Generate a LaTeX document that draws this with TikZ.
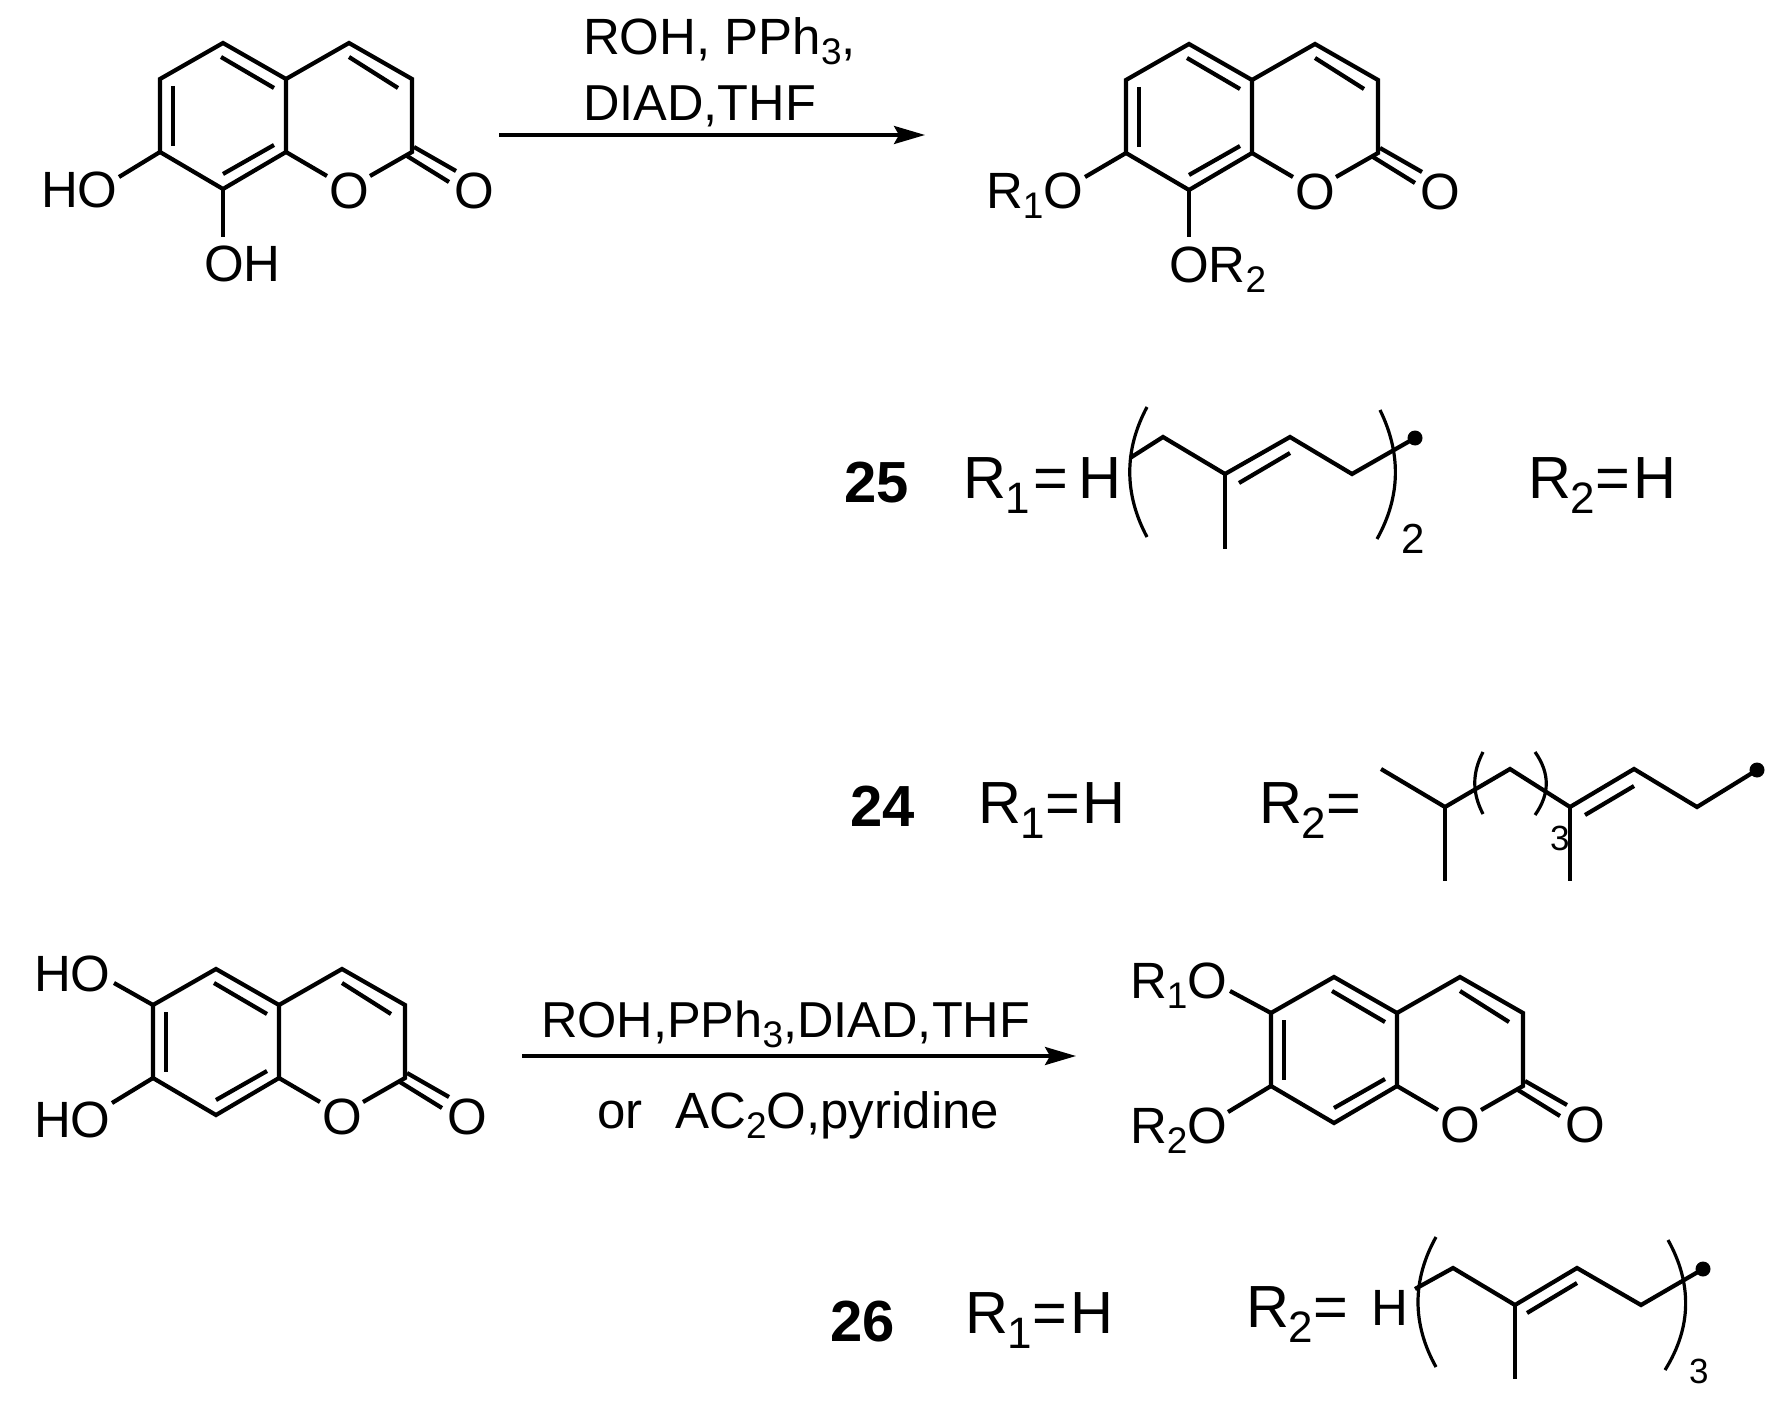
\documentclass[tikz,border=0pt]{standalone}
\usepackage{fontspec}
\usetikzlibrary{arrows.meta}
\setmainfont{Liberation Sans}
\newcommand{\sbA}[1]{\raisebox{-10pt}{\fontsize{37}{39}\selectfont #1}}
\newcommand{\sbB}[1]{\raisebox{-15pt}{\fontsize{44}{46}\selectfont #1}}
\newcommand{\coumarin}[3]{%
\begin{scope}[shift={(#2,#3)}]
\coordinate (#1a) at (223,43);
\coordinate (#1b) at (160,79);
\coordinate (#1c) at (160,152);
\coordinate (#1d) at (223,189);
\coordinate (#1e) at (286,152);
\coordinate (#1f) at (286,79);
\coordinate (#1g) at (349,43);
\coordinate (#1h) at (412,79);
\coordinate (#1i) at (412,152);
\coordinate (#1j) at (327,176);
\coordinate (#1k) at (370,176);
\coordinate (#1l) at (221,57);
\coordinate (#1m) at (274,88);
\coordinate (#1n) at (173,86);
\coordinate (#1o) at (173,146);
\coordinate (#1p) at (223,174);
\coordinate (#1q) at (274,145);
\coordinate (#1r) at (349,57);
\coordinate (#1s) at (398,88);
\coordinate (#1t) at (414,147);
\coordinate (#1u) at (456,171);
\coordinate (#1v) at (407,156);
\coordinate (#1w) at (449,182);
\node[lab,anchor=center] (#1O) at (349,190.5) {O};
\node[lab,anchor=center] (#1Ox) at (474.5,190.5) {O};
\draw[bond,line join=miter] (#1a) -- (#1b) -- (#1c) -- (#1d) -- (#1e) -- (#1f) -- cycle;
\draw[bond] (#1f) -- (#1g) -- (#1h) -- (#1i) -- (#1k);
\draw[bond] (#1e) -- (#1j);
\draw[bond] (#1l) -- (#1m);
\draw[bond] (#1n) -- (#1o);
\draw[bond] (#1p) -- (#1q);
\draw[bond] (#1r) -- (#1s);
\draw[bond] (#1t) -- (#1u);
\draw[bond] (#1v) -- (#1w);
\end{scope}}
\begin{document}
\begin{tikzpicture}[x=1pt,y=-1pt,
  bond/.style={line width=4.2pt,line cap=butt,line join=miter},
  thinb/.style={line width=3.2pt},
  lab/.style={anchor=base west,inner sep=0pt,outer sep=0pt,font=\fontsize{51}{52}\selectfont},
  rgt/.style={anchor=base west,inner sep=0pt,outer sep=0pt,font=\fontsize{50.5}{52}\selectfont},
  big/.style={anchor=base west,inner sep=0pt,outer sep=0pt,font=\fontsize{59.5}{61}\selectfont},
  cpd/.style={anchor=base west,inner sep=0pt,outer sep=0pt,font=\fontsize{58}{60}\selectfont\bfseries},
  tiny/.style={anchor=base west,inner sep=0pt,outer sep=0pt,font=\fontsize{42}{44}\selectfont},
  arr/.style={line width=3.4pt,-{Stealth[length=31pt,width=18pt,inset=5pt]}},
  endot/.style={circle,fill=black,inner sep=0pt,minimum size=15pt}]
\useasboundingbox (0,0) rectangle (1782,1412);
\fill[white] (0,0) rectangle (1782,1412);
%
% --- structures
\coumarin{A}{0}{0}
\coumarin{B}{966}{1}
\coumarin{C}{-7}{926}
\coumarin{D}{1111}{934}
% A substituents
\node[lab] (Aho) at (41,208) {HO};
\node[lab] (Aoh) at (204,282) {OH};
\coordinate (Ahoe) at (119,177);
\coordinate (Aohe) at (223,237);
\draw[bond] (Ac) -- (Ahoe);
\draw[bond] (Ad) -- (Aohe);
% B substituents
\node[lab] (Bro) at (986,209) {R\sbA{1}O};
\node[lab] (Bor) at (1169,283) {OR\sbA{2}};
\coordinate (Broe) at (1085,177);
\coordinate (Bore) at (1189,237);
\draw[bond] (Bc) -- (Broe);
\draw[bond] (Bd) -- (Bore);
% C substituents
\node[lab] (Cht) at (34,991) {HO};
\node[lab] (Chb) at (34,1137) {HO};
\coordinate (Chte) at (114,983);
\coordinate (Chbe) at (112,1103);
\draw[bond] (Cb) -- (Chte);
\draw[bond] (Cc) -- (Chbe);
% D substituents
\node[lab] (Dro) at (1130,998) {R\sbA{1}O};
\node[lab] (Dor) at (1130,1143) {R\sbA{2}O};
\coordinate (Droe) at (1230,991);
\coordinate (Dore) at (1228,1112);
\draw[bond] (Db) -- (Droe);
\draw[bond] (Dc) -- (Dore);
%
% --- reagents and arrows
\node[lab] (rga) at (583,55) {ROH, PPh\sbA{3},};
\node[rgt] (rgb) at (583,121) {DIAD,THF};
\coordinate (ar1s) at (499,135);
\coordinate (ar1e) at (925,135);
\draw[arr] (ar1s) -- (ar1e);
\node[rgt] (rgc) at (541,1037) {ROH,PPh\sbA{3},DIAD,THF};
\node[lab] (rgd) at (597,1128) {or\hspace{33pt}AC\sbA{2}O,pyridine};
\coordinate (ar2s) at (522,1056);
\coordinate (ar2e) at (1076,1056);
\draw[arr] (ar2s) -- (ar2e);
%
% --- compound 25
\node[cpd] (n25) at (844,502) {25};
\node[big] (r125) at (963,498) {R\sbB{1}\hspace{3pt}=\hspace{10pt}H};
\node[big] (r225) at (1528,498) {R\sbB{2}=\hspace{3pt}H};
\coordinate (p1) at (1130,458);
\coordinate (p2) at (1163,437);
\coordinate (p3) at (1225,474);
\coordinate (p4) at (1290,437);
\coordinate (p5) at (1352,474);
\node[endot] (p6) at (1415,438) {};
\coordinate (p7) at (1225,549);
\coordinate (p8) at (1239,483);
\coordinate (p9) at (1290,453);
\draw[bond] (p1) -- (p2) -- (p3) -- (p4) -- (p5) -- (p6.center);
\draw[bond] (p3) -- (p7);
\draw[bond] (p8) -- (p9);
\coordinate (pl1) at (1147,407); \coordinate (pl2) at (1147,537);
\coordinate (pr1) at (1380,410); \coordinate (pr2) at (1377,539);
\draw[thinb] (pl1) .. controls (1124,450) and (1124,494) .. (pl2);
\draw[thinb] (pr1) .. controls (1401,453) and (1401,496) .. (pr2);
\node[tiny] (s25) at (1401,553) {2};
%
% --- compound 24
\node[cpd] (n24) at (850,826) {24};
\node[big] (r124) at (978,823) {R\sbB{1}=\hspace{2pt}H};
\node[big] (r224) at (1259,823) {R\sbB{2}=};
\coordinate (q1) at (1381,769);
\coordinate (q2) at (1445,807);
\coordinate (q3) at (1510,769);
\coordinate (q4) at (1570,807);
\coordinate (q5) at (1634,769);
\coordinate (q6) at (1697,807);
\node[endot] (q7) at (1757,770) {};
\coordinate (q8) at (1445,881);
\coordinate (q9) at (1570,881);
\coordinate (q10) at (1585,815);
\coordinate (q11) at (1634,786);
\draw[bond] (q1) -- (q2) -- (q3) -- (q4) -- (q5) -- (q6) -- (q7.center);
\draw[bond] (q2) -- (q8);
\draw[bond] (q4) -- (q9);
\draw[bond] (q10) -- (q11);
\coordinate (ql1) at (1483,752); \coordinate (ql2) at (1483,814);
\coordinate (qr1) at (1535,752); \coordinate (qr2) at (1535,815);
\draw[thinb] (ql1) .. controls (1472,773) and (1472,793) .. (ql2);
\draw[thinb] (qr1) .. controls (1550,773) and (1550,794) .. (qr2);
\node[anchor=base west,inner sep=0pt,font=\fontsize{35}{37}\selectfont] (s24) at (1550,850) {3};
%
% --- compound 26
\node[cpd] (n26) at (830,1341) {26};
\node[big] (r126) at (965,1333) {R\sbB{1}=\hspace{3pt}H};
\node[big] (r226) at (1246,1327) {R\sbB{2}=};
\node[lab] (h26) at (1371,1325) {H};
\coordinate (t1) at (1415,1289);
\coordinate (t2) at (1453,1268);
\coordinate (t3) at (1515,1305);
\coordinate (t4) at (1577,1268);
\coordinate (t5) at (1641,1305);
\node[endot] (t6) at (1703,1269) {};
\coordinate (t7) at (1515,1379);
\coordinate (t8) at (1527,1313);
\coordinate (t9) at (1577,1283);
\draw[bond] (t1) -- (t2) -- (t3) -- (t4) -- (t5) -- (t6.center);
\draw[bond] (t3) -- (t7);
\draw[bond] (t8) -- (t9);
\coordinate (tl1) at (1436,1237); \coordinate (tl2) at (1436,1367);
\coordinate (tr1) at (1668,1240); \coordinate (tr2) at (1665,1370);
\draw[thinb] (tl1) .. controls (1412,1280) and (1412,1324) .. (tl2);
\draw[thinb] (tr1) .. controls (1692,1283) and (1692,1327) .. (tr2);
\node[anchor=base west,inner sep=0pt,font=\fontsize{35}{37}\selectfont] (s26) at (1689,1383) {3};
\end{tikzpicture}
\end{document}
